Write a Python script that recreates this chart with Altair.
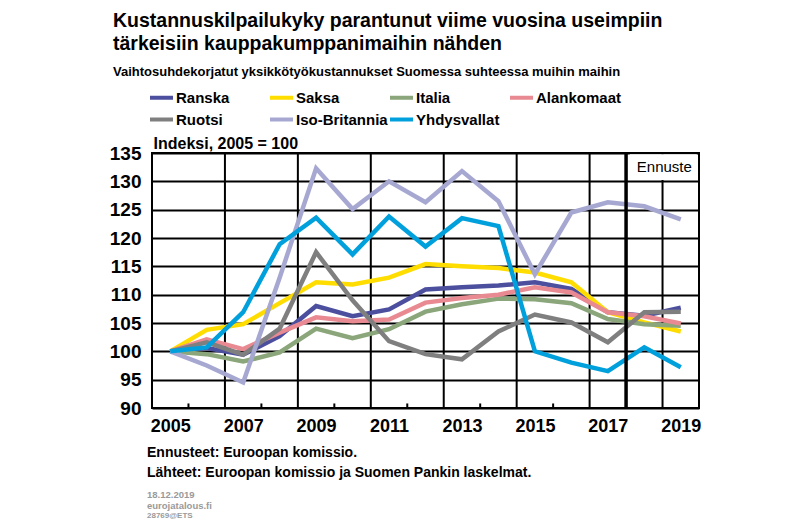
import altair as alt
import pandas as pd

years = list(range(2005, 2020))
series_names = ["Ranska", "Saksa", "Italia", "Alankomaat", "Ruotsi", "Iso-Britannia", "Yhdysvallat"]
series_colors = ["#4b4f9e", "#ffdd00", "#8aa67a", "#e98a92", "#7f7f7f", "#a6a8d2", "#00a0dc"]

ranska = [100, 100.6, 99.4, 102.7, 108.0, 106.2, 107.4, 110.9, 111.3, 111.6, 112.2, 111.0, 106.9, 106.3, 107.7]
saksa = [100, 103.8, 104.8, 108.5, 112.2, 111.8, 113.0, 115.4, 115.0, 114.7, 113.9, 112.2, 106.9, 105.1, 103.5]
italia = [100, 99.5, 98.2, 99.8, 104.0, 102.3, 103.9, 107.0, 108.3, 109.3, 109.2, 108.5, 105.7, 104.8, 104.5]
alankomaat = [100, 102.1, 100.4, 103.3, 106.0, 105.3, 105.6, 108.6, 109.4, 110.0, 111.3, 110.4, 106.9, 106.2, 104.9]
ruotsi = [100, 101.6, 99.4, 104.0, 117.5, 109.0, 101.8, 99.5, 98.6, 103.5, 106.5, 105.1, 101.6, 106.9, 107.0]
iso_britannia = [100, 97.5, 94.5, 113.0, 132.3, 125.1, 130.0, 126.3, 131.8, 126.5, 113.6, 124.5, 126.3, 125.6, 123.3]
yhdysvallat = [100, 100.7, 106.9, 118.9, 123.6, 117.1, 123.8, 118.5, 123.5, 122.1, 100.0, 98.0, 96.5, 100.7, 97.2]

x_labels = [2005, 2007, 2009, 2011, 2013, 2015, 2017, 2019]
y_ticks = [90, 95, 100, 105, 110, 115, 120, 125, 130, 135]
v_grid = [2004.5, 2006.5, 2008.5, 2010.5, 2012.5, 2014.5, 2016.5, 2018.5]
bottom_ticks = [2005.5, 2007.5, 2009.5, 2011.5, 2013.5, 2015.5, 2019.5]
forecast_start = 2017.5

FONT = "Liberation Sans"

all_values = [ranska, saksa, italia, alankomaat, ruotsi, iso_britannia, yhdysvallat]
rows = []
for name, vals in zip(series_names, all_values):
    for yr, v in zip(years, vals):
        rows.append({"vuosi": yr, "arvo": v, "maa": name})
df = pd.DataFrame(rows)

xscale = alt.Scale(domain=[2004.5, 2019.5], nice=False, zero=False)
yscale = alt.Scale(domain=[90, 135], nice=False, zero=False)

x_axis = alt.Axis(
    values=x_labels, format="d", title=None, grid=False, ticks=False, domain=False,
    labelFont=FONT, labelFontSize=18, labelFontWeight="bold", labelColor="black",
    labelPadding=9, labelFlush=False, labelOverlap=False,
)
y_axis = alt.Axis(
    values=y_ticks, title="Indeksi, 2005 = 100", grid=True, gridColor="black", gridWidth=2,
    ticks=False, domain=False, labelFont=FONT, labelFontSize=19, labelFontWeight="bold",
    labelColor="black", labelPadding=11, labelOverlap=False,
    titleAngle=0, titleAlign="left", titleBaseline="alphabetic", titleX=1, titleY=-5,
    titleFont=FONT, titleFontSize=16, titleFontWeight="bold", titleColor="black",
)

vgrid = alt.Chart(pd.DataFrame({"x": v_grid})).mark_rule(color="black", strokeWidth=2).encode(
    x=alt.X("x:Q", scale=xscale, axis=x_axis)
)

ticks = alt.Chart(pd.DataFrame({"x": bottom_ticks, "y": [90] * len(bottom_ticks), "y2": [90.8] * len(bottom_ticks)})).mark_rule(
    color="black", strokeWidth=2
).encode(
    x=alt.X("x:Q", scale=xscale, axis=x_axis),
    y=alt.Y("y:Q", scale=yscale, axis=y_axis),
    y2="y2:Q",
)

lines = alt.Chart(df).mark_line(strokeWidth=4.5, strokeJoin="miter").encode(
    x=alt.X("vuosi:Q", scale=xscale, axis=x_axis),
    y=alt.Y("arvo:Q", scale=yscale, axis=y_axis),
    color=alt.Color(
        "maa:N",
        scale=alt.Scale(domain=series_names, range=series_colors),
        legend=alt.Legend(
            title=None, orient="none", legendX=-4, legendY=-69, direction="horizontal", columns=4,
            gridAlign="all", symbolType="stroke", symbolSize=529, symbolStrokeWidth=4,
            labelFont=FONT, labelFontSize=15, labelFontWeight="bold", labelColor="black",
            labelOffset=1, columnPadding=-15, rowPadding=-3, padding=0,
        ),
    ),
)

forecast = alt.Chart(pd.DataFrame({"x": [forecast_start]})).mark_rule(color="black", strokeWidth=3.5).encode(
    x=alt.X("x:Q", scale=xscale, axis=x_axis)
)

box = alt.Chart(pd.DataFrame({"x": [2017.6], "x2": [2019.44], "y": [130.25], "y2": [134.8]})).mark_rect(
    color="white"
).encode(
    x=alt.X("x:Q", scale=xscale, axis=x_axis), x2="x2:Q",
    y=alt.Y("y:Q", scale=yscale, axis=y_axis), y2="y2:Q",
)

box_text = alt.Chart(pd.DataFrame({"x": [2018.55], "y": [132.5], "t": ["Ennuste"]})).mark_text(
    font=FONT, fontSize=15, color="black", align="center", baseline="middle"
).encode(
    x=alt.X("x:Q", scale=xscale, axis=x_axis),
    y=alt.Y("y:Q", scale=yscale, axis=y_axis),
    text="t:N",
)

note1 = alt.Chart(pd.DataFrame({"t": ["Ennusteet: Euroopan komissio."]})).mark_text(
    font=FONT, fontSize=14, fontWeight="bold", color="black", align="left", baseline="middle"
).encode(x=alt.value(-5), y=alt.value(300), text="t:N")
note2 = alt.Chart(pd.DataFrame({"t": ["Lähteet: Euroopan komissio ja Suomen Pankin laskelmat."]})).mark_text(
    font=FONT, fontSize=14, fontWeight="bold", color="black", align="left", baseline="middle"
).encode(x=alt.value(-5), y=alt.value(320), text="t:N")
small1 = alt.Chart(pd.DataFrame({"t": ["18.12.2019"]})).mark_text(
    font=FONT, fontSize=9.5, fontWeight="bold", color="#9a9a9a", align="left", baseline="middle"
).encode(x=alt.value(-5), y=alt.value(342), text="t:N")
small2 = alt.Chart(pd.DataFrame({"t": ["eurojatalous.fi"]})).mark_text(
    font=FONT, fontSize=9.5, fontWeight="bold", color="#9a9a9a", align="left", baseline="middle"
).encode(x=alt.value(-5), y=alt.value(353), text="t:N")
small3 = alt.Chart(pd.DataFrame({"t": ["28769@ETS"]})).mark_text(
    font=FONT, fontSize=8, fontWeight="bold", color="#9a9a9a", align="left", baseline="middle"
).encode(x=alt.value(-5), y=alt.value(363), text="t:N")

chart = alt.layer(
    vgrid, ticks, lines, forecast, box, box_text, note1, note2, small1, small2, small3
).properties(
    width=547,
    height=255,
    background="white",
    autosize=alt.AutoSizeParams(type="none"),
    padding={"left": 144, "top": 145, "right": 50, "bottom": 115},
    title=alt.TitleParams(
        text=["Kustannuskilpailukyky parantunut viime vuosina useimpiin", "tärkeisiin kauppakumppanimaihin nähden"],
        subtitle="Vaihtosuhdekorjatut yksikkötyökustannukset Suomessa suhteessa muihin maihin",
        anchor="start", frame="group", dx=-39, offset=4,
        font=FONT, fontSize=19.5, fontWeight="bold", color="black", lineHeight=23,
        subtitleFont=FONT, subtitleFontSize=13, subtitleFontWeight="bold", subtitleColor="black",
        subtitlePadding=12,
    ),
).configure_view(
    stroke="black", strokeWidth=2
)

chart.save("out.html", embed_options={"renderer": "svg", "actions": False})
